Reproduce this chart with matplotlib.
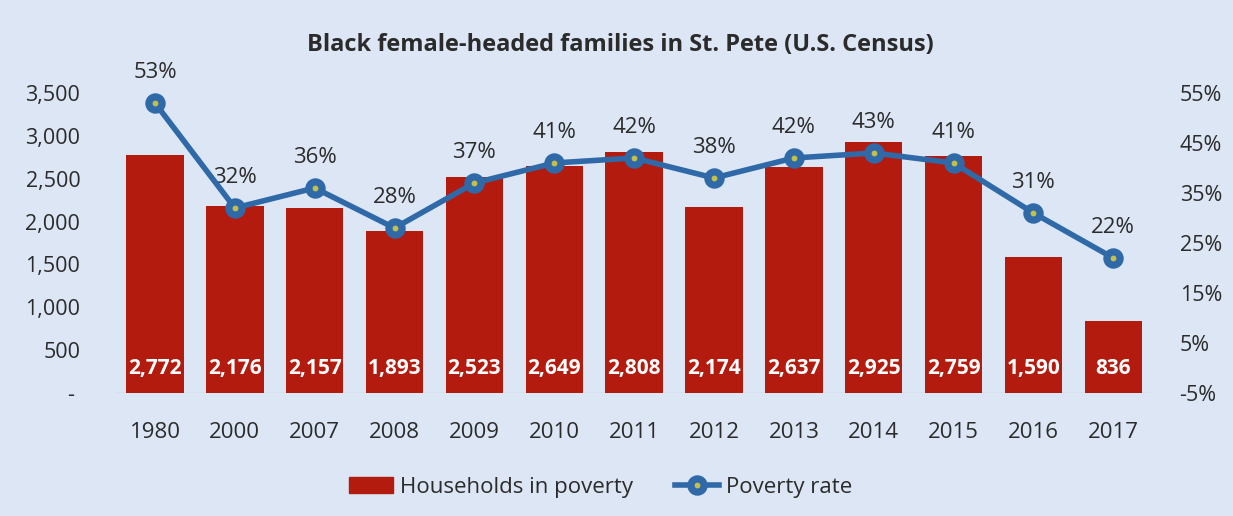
import matplotlib.pyplot as plt
from matplotlib.lines import Line2D
from matplotlib.patches import Patch

plt.rcParams['font.family'] = ['Open Sans', 'DejaVu Sans']

years = ['1980', '2000', '2007', '2008', '2009', '2010', '2011', '2012',
         '2013', '2014', '2015', '2016', '2017']
households = [2772, 2176, 2157, 1893, 2523, 2649, 2808, 2174, 2637, 2925, 2759, 1590, 836]
poverty_rate = [53, 32, 36, 28, 37, 41, 42, 38, 42, 43, 41, 31, 22]

bg = '#dce6f4'
red = '#b31b0e'
blue = '#2f69a8'
dot = '#c2c04a'
txt = '#2b2b2b'

fig = plt.figure(figsize=(12.33, 5.16), dpi=100, facecolor=bg)
ax = fig.add_axes([0.0933, 0.2384, 0.842, 0.5814])
ax.set_facecolor(bg)
x = list(range(len(years)))

ax.bar(x, households, width=0.72, color=red, zorder=2)
ax.axhline(0, color='#c4cbd6', lw=1, zorder=1)
for xi, v in zip(x, households):
    ax.text(xi, 290, f'{v:,}', color='white', fontweight='bold', fontsize=15,
            ha='center', va='center', zorder=3)

ax.set_xlim(-0.5, 12.5)
ax.set_ylim(0, 3500)
ax.set_yticks(range(0, 3501, 500))
ax.set_yticklabels(['-\u00a0' if v == 0 else f'{v:,}' for v in range(0, 3501, 500)])
ax.set_xticks(x)
ax.set_xticklabels(years)
ax.tick_params(axis='both', length=0, labelsize=15.5, colors=txt)
ax.tick_params(axis='x', labelsize=16, pad=21)
ax.tick_params(axis='y', pad=25)
for s in ax.spines.values():
    s.set_visible(False)

ax2 = ax.twinx()
ax2.set_ylim(-5, 55)
ax2.set_yticks(range(-5, 56, 10))
ax2.set_yticklabels([f'{v}%' for v in range(-5, 56, 10)])
ax2.tick_params(axis='y', length=0, labelsize=15.5, colors=txt, pad=19)
for s in ax2.spines.values():
    s.set_visible(False)
ax2.plot(x, poverty_rate, color=blue, lw=4, marker='o', ms=9.5, mew=5.2,
         mec=blue, mfc=dot, zorder=4)
for xi, v in zip(x, poverty_rate):
    ax2.annotate(f'{v}%', (xi, v), xytext=(0, 22), textcoords='offset points',
                 ha='center', va='center', fontsize=16, color=txt)

fig.text(0.503, 0.913, 'Black female-headed families in St. Pete (U.S. Census)',
         ha='center', va='center', fontsize=17, fontweight='bold', color=txt)

handles = [Patch(color=red),
           Line2D([], [], color=blue, lw=4, marker='o', ms=9.5, mew=5.2,
                  mec=blue, mfc=dot)]
fig.legend(handles, ['Households in poverty', 'Poverty rate'], loc='center',
           bbox_to_anchor=(0.487, 0.056), ncol=2, frameon=False, fontsize=16,
           handlelength=2.0, handletextpad=0.3, columnspacing=1.9,
           labelcolor=txt)

fig.savefig('out.png', dpi=100, facecolor=bg)
